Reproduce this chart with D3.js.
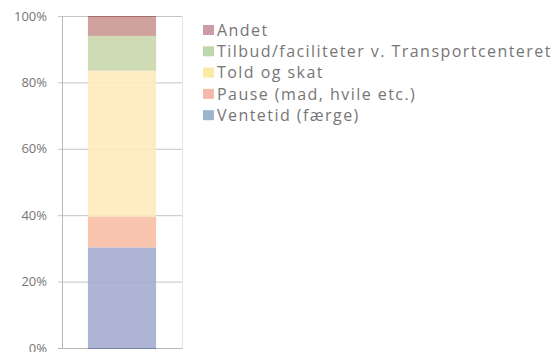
<!DOCTYPE html>
<html>
<head>
<meta charset="utf-8">
<script src="https://cdn.jsdelivr.net/npm/d3@7"></script>
<style>
  body { margin: 0; background: #fff; }
  svg { display: block; }
  text { font-family: "Open Sans", Lato, sans-serif; fill: #767676; }
</style>
</head>
<body>
<svg id="chart" width="555" height="352"></svg>
<script>
// Share of time by activity (percent), stacked bottom to top
const categories = ["Ventetid (færge)", "Pause (mad, hvile etc.)", "Told og skat", "Tilbud/faciliteter v. Transportcenteret", "Andet"];
const values = [30.3, 9.3, 43.9, 10.5, 6.0];
const colors = ["#a3aacd", "#f8bda4", "#feebb9", "#c8d6ab", "#c8958f"];
const swatchColors = ["#9db4cd", "#f4b9a9", "#fde9a6", "#bdd8ad", "#c99ca6"];
const tickValues = [0, 20, 40, 60, 80, 100];

const svg = d3.select("#chart");
const plotLeft = 62, plotRight = 182, plotTop = 16, plotBottom = 348;

const y = d3.scaleLinear().domain([0, 100]).range([plotBottom, plotTop]);
const x = d3.scaleBand().domain(["all"]).range([plotLeft, plotRight]).paddingInner(0).paddingOuter(0.38);

// gridlines
svg.append("g").selectAll("line").data(tickValues).join("line")
  .attr("x1", plotLeft - 4).attr("x2", plotRight)
  .attr("y1", d => y(d) + 0.5).attr("y2", d => y(d) + 0.5)
  .attr("stroke", "#c4c4c4").attr("stroke-width", 1);

// stacked segments
const stack = d3.stack().keys(categories)(
  [Object.fromEntries(categories.map((c, i) => [c, values[i]]))]
);
svg.append("g").selectAll("rect").data(stack).join("rect")
  .attr("x", x("all"))
  .attr("width", x.bandwidth())
  .attr("y", d => y(d[0][1]))
  .attr("height", d => y(d[0][0]) - y(d[0][1]))
  .attr("fill", (d, i) => colors[i])
  .attr("fill-opacity", 0.88);

// dark edges at the top and base of the stack
svg.append("line")
  .attr("x1", x("all")).attr("x2", x("all") + x.bandwidth())
  .attr("y1", y(100) + 0.5).attr("y2", y(100) + 0.5)
  .attr("stroke", "#a86f6a").attr("stroke-width", 1);

// axis and right border
svg.append("line").attr("x1", plotLeft + 0.5).attr("x2", plotLeft + 0.5)
  .attr("y1", plotTop).attr("y2", plotBottom + 1).attr("stroke", "#b8b8b8");
svg.append("line").attr("x1", plotRight + 0.5).attr("x2", plotRight + 0.5)
  .attr("y1", plotTop).attr("y2", plotBottom + 1).attr("stroke", "#e4e4e4");
svg.append("line").attr("x1", plotLeft - 4).attr("x2", plotRight)
  .attr("y1", plotBottom + 0.5).attr("y2", plotBottom + 0.5).attr("stroke", "#b8b8b8");
svg.append("line")
  .attr("x1", x("all")).attr("x2", x("all") + x.bandwidth())
  .attr("y1", y(0) + 0.5).attr("y2", y(0) + 0.5)
  .attr("stroke", "#7380a8").attr("stroke-width", 1);

// tick labels
svg.append("g").selectAll("text").data(tickValues).join("text")
  .attr("x", 47).attr("y", d => y(d))
  .attr("dy", "0.35em")
  .attr("text-anchor", "end")
  .attr("font-size", 13)
  .text(d => d + "%");

// legend, top entry is the top of the stack
const legendItems = categories.map((c, i) => ({ name: c, color: swatchColors[i] })).reverse();
const lg = svg.append("g").selectAll("g").data(legendItems).join("g")
  .attr("transform", (d, i) => `translate(203, ${30 + i * 21.3})`);
lg.append("rect").attr("x", 0).attr("y", -5).attr("width", 11).attr("height", 10)
  .attr("fill", d => d.color);
lg.append("text").attr("x", 14).attr("dy", "0.36em")
  .attr("font-size", 16).attr("letter-spacing", 1.45)
  .text(d => d.name);
</script>
</body>
</html>
